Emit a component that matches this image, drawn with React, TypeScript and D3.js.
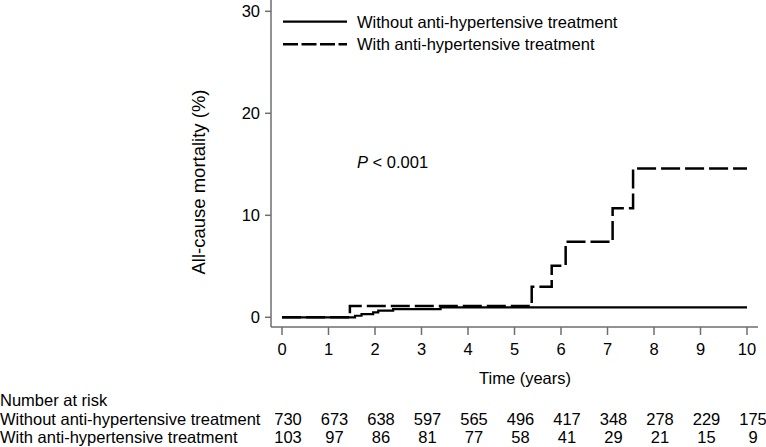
import * as d3 from "d3";

const withoutTimes = [0, 1.57, 1.71, 1.96, 2.07, 2.39, 3.41, 10];
const withoutValues = [0, 0.15, 0.32, 0.49, 0.65, 0.81, 0.98, 0.98];
const withTimes = [0, 1.46, 5.37, 5.8, 6.1, 7.11, 7.55, 10];
const withValues = [0, 1.1, 3.0, 5.06, 7.4, 10.7, 14.6, 14.6];

const xTicks = [0, 1, 2, 3, 4, 5, 6, 7, 8, 9, 10];
const yTicks = [0, 10, 20, 30];

const riskWithout = [730, 673, 638, 597, 565, 496, 417, 348, 278, 229, 175];
const riskWith = [103, 97, 86, 81, 77, 58, 41, 29, 21, 15, 9];

const labelWithout = "Without anti-hypertensive treatment";
const labelWith = "With anti-hypertensive treatment";

const font = "'Liberation Sans', Arial, sans-serif";

export default function App() {
  const width = 766,
    height = 447;
  const x = d3.scaleLinear().domain([0, 10]).range([282, 747]);
  const y = d3.scaleLinear().domain([0, 30]).range([317.3, 11.3]);

  const line = d3
    .line<[number, number]>()
    .x((d) => x(d[0]))
    .y((d) => y(d[1]))
    .curve(d3.curveStepAfter);

  const pathWithout = line(withoutTimes.map((t, i) => [t, withoutValues[i]]));
  const pathWith = line(withTimes.map((t, i) => [t, withValues[i]]));

  const axisX = 271,
    axisY = 327;
  const axisColor = "#6e6e6e";

  return (
    <svg
      width={width}
      height={height}
      style={{ position: "absolute", left: 0, top: 0, background: "#fff" }}
      fontFamily={font}
      fontSize={16.5}
    >
      {/* axes */}
      <line x1={axisX} x2={axisX} y1={0} y2={axisY} stroke={axisColor} strokeWidth={1.5} />
      <line x1={axisX} x2={758} y1={axisY} y2={axisY} stroke={axisColor} strokeWidth={1.5} />
      {yTicks.map((t) => (
        <g key={"y" + t}>
          <line x1={axisX - 6} x2={axisX} y1={y(t)} y2={y(t)} stroke={axisColor} strokeWidth={1.5} />
          <text x={260} y={y(t) + 6} textAnchor="end">
            {t}
          </text>
        </g>
      ))}
      {xTicks.map((t) => (
        <g key={"x" + t}>
          <line x1={x(t)} x2={x(t)} y1={axisY} y2={axisY + 8} stroke={axisColor} strokeWidth={1.5} />
          <text x={x(t)} y={355} textAnchor="middle">
            {t}
          </text>
        </g>
      ))}

      <text
        transform={`translate(205, 182) rotate(-90)`}
        textAnchor="middle"
        fontSize={18.5}
      >
        All-cause mortality (%)
      </text>
      <text x={525} y={384} textAnchor="middle">
        Time (years)
      </text>

      {/* curves */}
      <path d={pathWithout ?? ""} fill="none" stroke="#000" strokeWidth={2.2} />
      <path d={pathWith ?? ""} fill="none" stroke="#000" strokeWidth={2.5} strokeDasharray="19,5" />

      {/* legend */}
      <line x1={283} x2={347} y1={21.7} y2={21.7} stroke="#000" strokeWidth={2.2} />
      <line x1={283} x2={347} y1={44.3} y2={44.3} stroke="#000" strokeWidth={2.5} strokeDasharray="15,3.5" />
      <text x={357} y={27.5}>
        {labelWithout}
      </text>
      <text x={357} y={50}>
        {labelWith}
      </text>

      <text x={357} y={168}>
        <tspan fontStyle="italic">P</tspan> &lt; 0.001
      </text>

      {/* number at risk */}
      <text x={0} y={406}>
        Number at risk
      </text>
      <text x={0} y={425}>
        {labelWithout}
      </text>
      <text x={0} y={443}>
        {labelWith}
      </text>
      {riskWithout.map((v, i) => (
        <text key={"rw" + i} x={x(xTicks[i]) + 6} y={425} textAnchor="middle">
          {v}
        </text>
      ))}
      {riskWith.map((v, i) => (
        <text key={"rh" + i} x={x(xTicks[i]) + 6} y={443} textAnchor="middle">
          {v}
        </text>
      ))}
    </svg>
  );
}
